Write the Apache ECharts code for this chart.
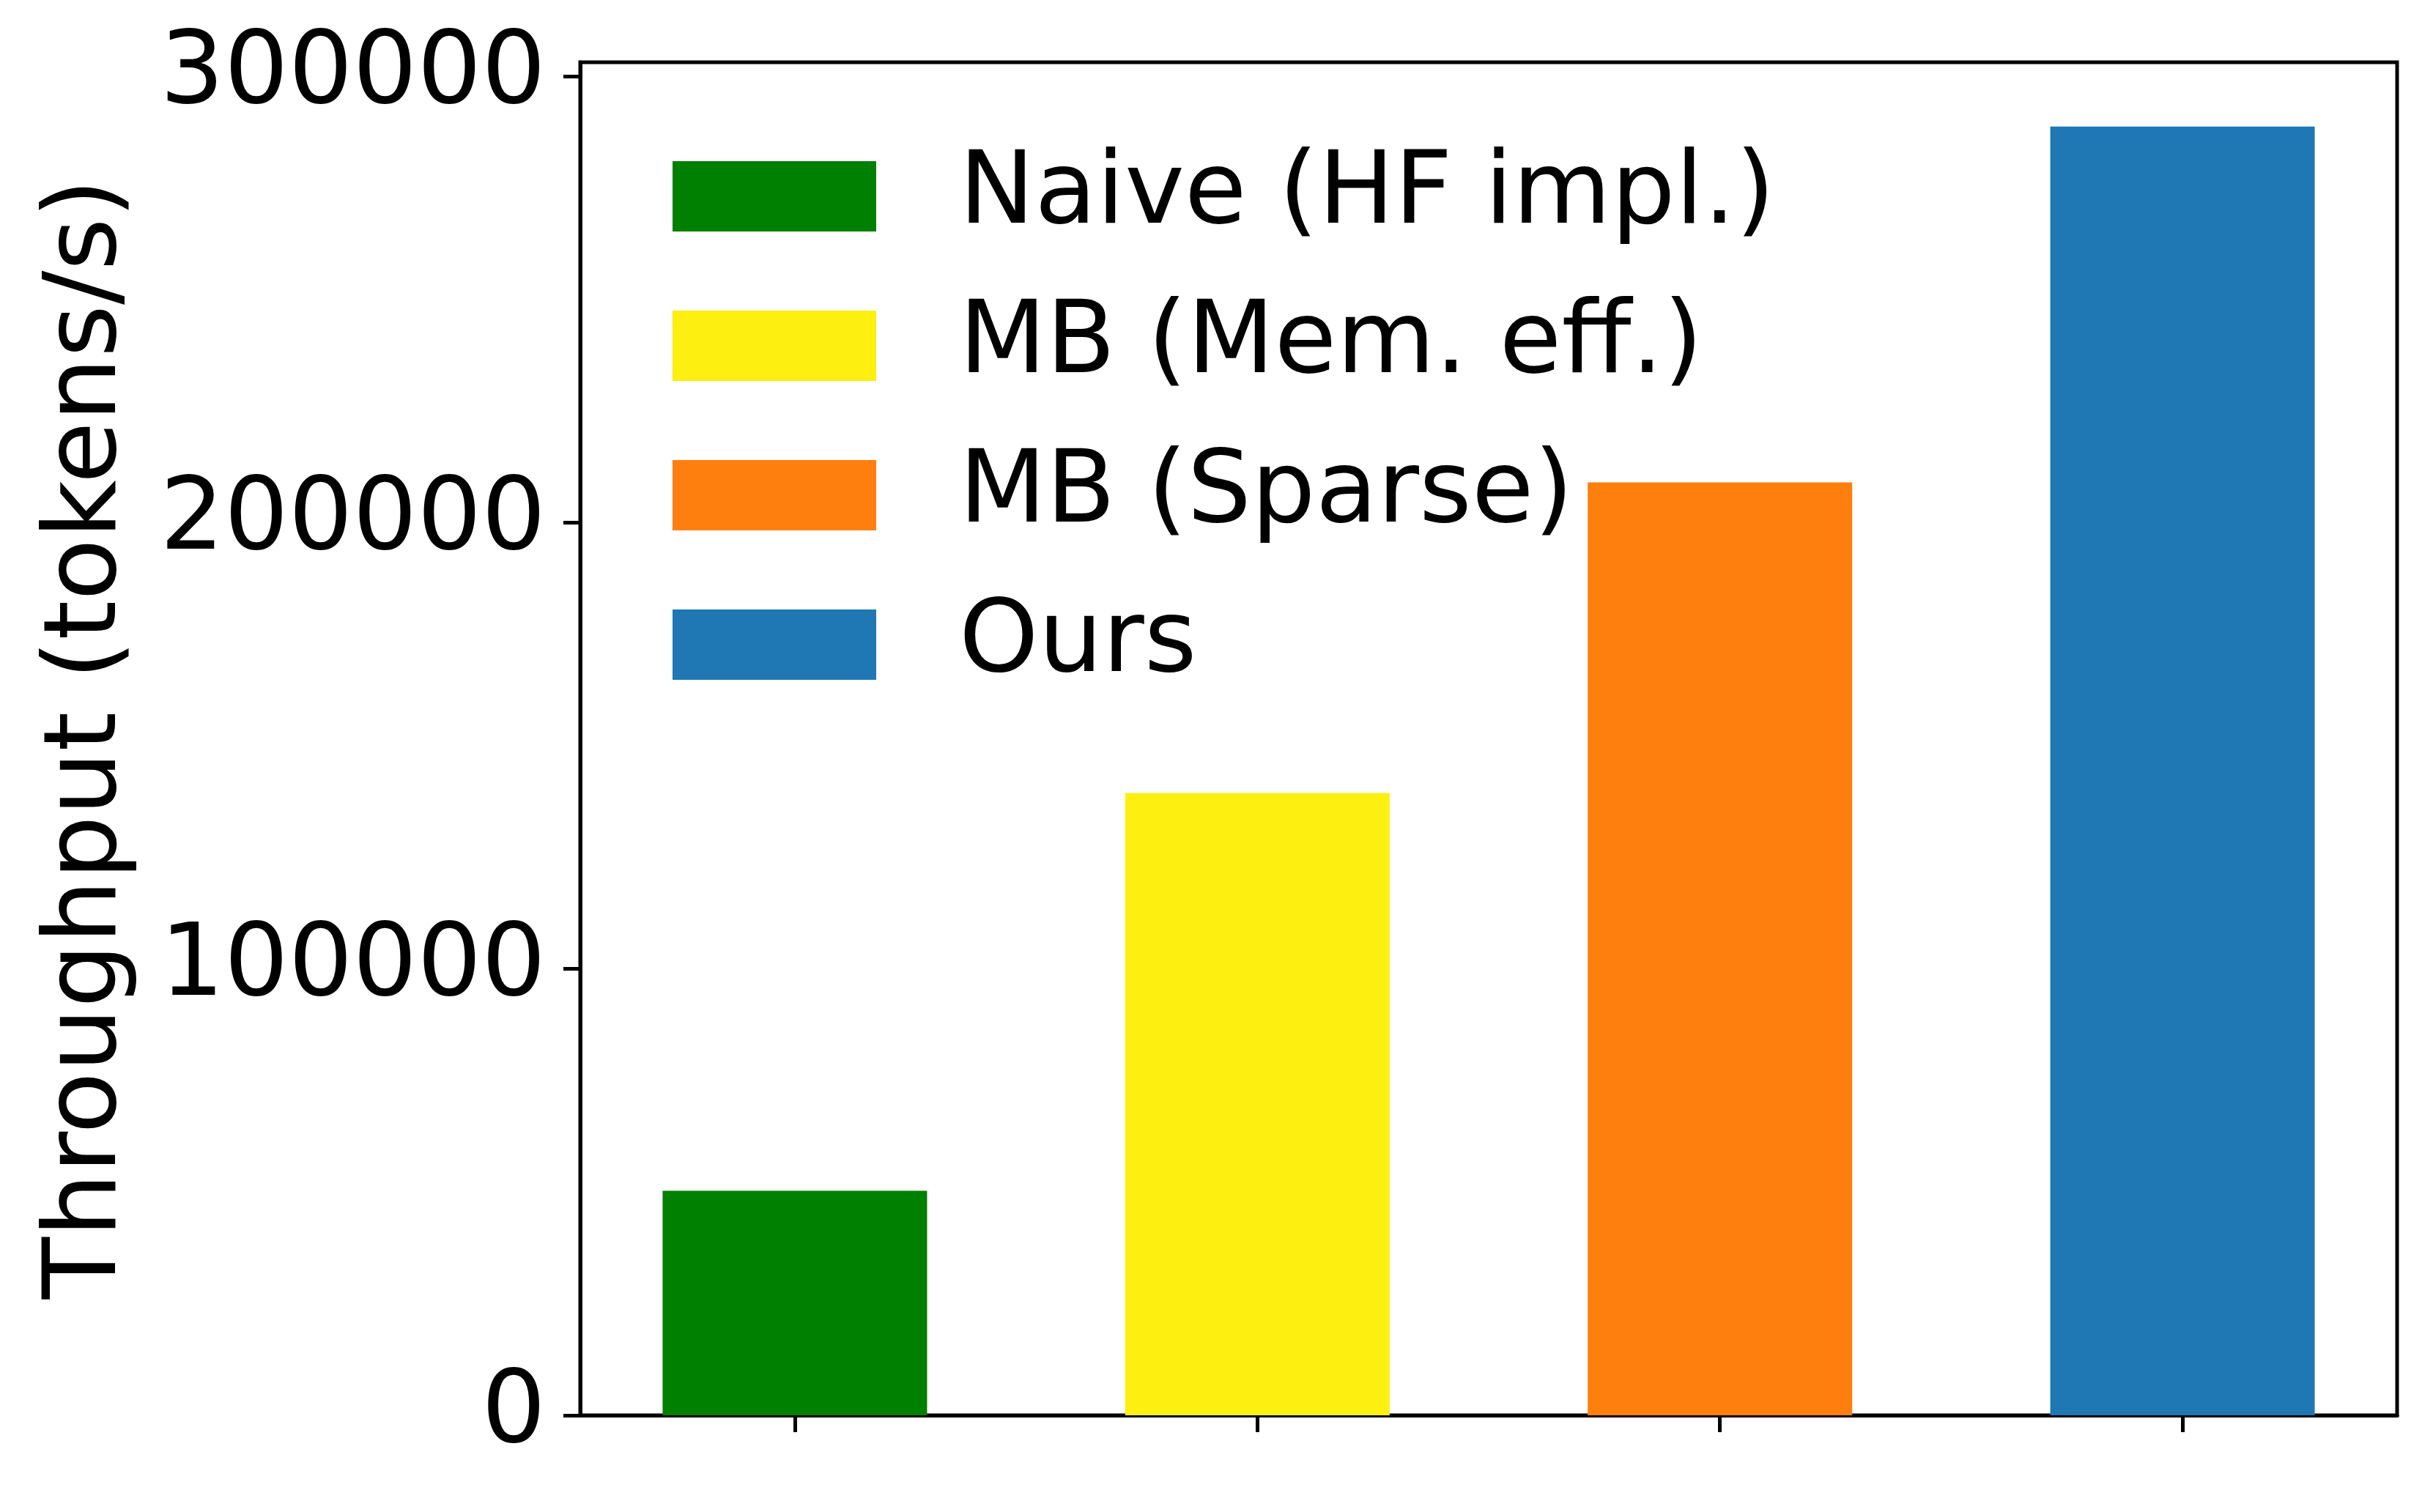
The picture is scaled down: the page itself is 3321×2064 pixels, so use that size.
<!DOCTYPE html>
<html>
<head>
<meta charset="utf-8">
<script src="https://cdn.jsdelivr.net/npm/echarts@6/dist/echarts.min.js"></script>
<style>
  html, body { margin: 0; padding: 0; background: #fff; }
  #main { width: 3321px; height: 2064px; }
</style>
</head>
<body>
<div id="main"></div>
<script>
  // methods, in legend order
  const methods = ['Naive (HF impl.)', 'MB (Mem. eff.)', 'MB (Sparse)', 'Ours']
  // throughput in tokens/s
  const throughput = [50300, 139400, 209000, 288700]
  const colors = ['#008000', '#fdef10', '#ff7f0e', '#1f77b4']
  const yTicks = [0, 100000, 200000, 300000]
  const xTicks = [0, 1, 2, 3]

  const font = 'DejaVu Sans'
  const chart = echarts.init(document.getElementById('main'))

  chart.setOption({
    animation: false,
    backgroundColor: '#fff',
    grid: {
      left: 792,
      right: 49,
      top: 85,
      bottom: 132,
      show: true,
      borderColor: '#000',
      borderWidth: 5,
      backgroundColor: 'transparent'
    },
    legend: {
      left: 913,
      top: 189,
      orient: 'vertical',
      icon: 'rect',
      itemWidth: 278,
      itemHeight: 96,
      itemGap: 56,
      data: methods,
      textStyle: {
        fontFamily: font,
        fontSize: 138,
        lineHeight: 140,
        color: '#000',
        padding: [8, 0, 0, 108]
      }
    },
    xAxis: {
      type: 'value',
      min: -0.464,
      max: 3.464,
      axisLine: { show: true, onZero: false, lineStyle: { color: '#000', width: 5 } },
      axisTick: {
        show: true,
        length: 23,
        customValues: xTicks,
        lineStyle: { color: '#000', width: 5 }
      },
      axisLabel: { show: false },
      splitLine: { show: false }
    },
    yAxis: {
      type: 'value',
      min: 0,
      max: 303100,
      name: 'Throughput (tokens/s)',
      nameLocation: 'middle',
      nameGap: 602,
      nameTextStyle: { fontFamily: font, fontSize: 138, color: '#000' },
      axisLine: { show: true, onZero: false, lineStyle: { color: '#000', width: 5 } },
      axisTick: {
        show: true,
        length: 23,
        customValues: yTicks,
        lineStyle: { color: '#000', width: 5 }
      },
      axisLabel: {
        customValues: yTicks,
        margin: 47,
        fontFamily: font,
        fontSize: 138,
        color: '#000',
        formatter: (v) => String(v)
      },
      splitLine: { show: false }
    },
    series: methods.map((name, i) => ({
      name,
      type: 'bar',
      barWidth: 361,
      barGap: '-100%',
      itemStyle: { color: colors[i] },
      data: [[i, throughput[i]]]
    }))
  })
</script>
</body>
</html>
